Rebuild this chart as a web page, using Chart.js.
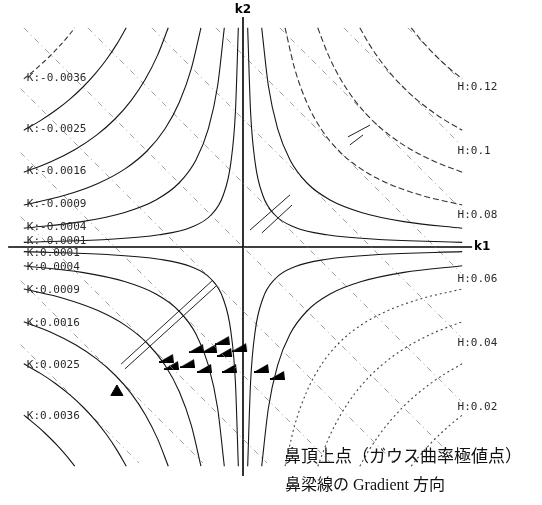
<!DOCTYPE html>
<html>
<head>
<meta charset="utf-8">
<script src="https://cdn.jsdelivr.net/npm/chart.js@4.4.1/dist/chart.umd.min.js"></script>
<style>
  html, body { margin: 0; padding: 0; background: #fff; }
  #wrap { width: 542px; height: 505px; }
</style>
</head>
<body>
<div id="wrap"><canvas id="curvChart"></canvas></div>
<script>
// Gaussian curvature levels |K| drawn in each quadrant
const kLevels = [0.0001, 0.0004, 0.0009, 0.0016, 0.0025, 0.0036];

// |k1| samples along each K contour; |k2| is the same list read backwards
const kCurveSamples = [
  [0.00146, 0.00236, 0.00382, 0.00618, 0.0100, 0.01618, 0.0262, 0.0424, 0.0685],
  [0.00584, 0.00794, 0.01081, 0.0147, 0.0200, 0.02721, 0.0370, 0.0503, 0.0685],
  [0.01314, 0.01615, 0.01986, 0.02441, 0.0300, 0.03688, 0.04533, 0.05573, 0.0685],
  [0.02336, 0.02672, 0.03057, 0.03497, 0.0400, 0.04576, 0.05234, 0.05988, 0.0685],
  [0.0365, 0.03949, 0.04272, 0.04622, 0.0500, 0.05409, 0.05852, 0.06331, 0.0685],
  [0.05255, 0.05432, 0.05615, 0.05805, 0.0600, 0.06202, 0.06411, 0.06627, 0.0685],
];

// mean curvature lines k1 + k2 = H, with their two end points
const hLevels = [0.12, 0.1, 0.08, 0.06, 0.04, 0.02, 0, -0.02, -0.04, -0.06, -0.08, -0.1];
const hLineEnds = [
  [[0.0515, 0.0685], [0.068, 0.052]],
  [[0.0315, 0.0685], [0.068, 0.032]],
  [[0.0115, 0.0685], [0.068, 0.012]],
  [[-0.0085, 0.0685], [0.068, -0.008]],
  [[-0.0285, 0.0685], [0.068, -0.028]],
  [[-0.0485, 0.0685], [0.068, -0.048]],
  [[-0.0685, 0.0685], [0.0675, -0.0675]],
  [[-0.0695, 0.0495], [0.0475, -0.0675]],
  [[-0.0695, 0.0295], [0.0275, -0.0675]],
  [[-0.0695, 0.0095], [0.0075, -0.0675]],
  [[-0.0695, -0.0105], [-0.0125, -0.0675]],
  [[-0.0695, -0.0305], [-0.0325, -0.0675]],
];
const hLabelled = [0.12, 0.1, 0.08, 0.06, 0.04, 0.02];

// axes
const k1Axis = [[-0.0734, 0], [0.0716, 0]];
const k2Axis = [[0, 0.0719], [0, -0.0716]];

// nose bridge gradient directions (flags) and nose tip (Gaussian extremum)
const flagK1 = [-0.0063, -0.0144, -0.0103, -0.0056, -0.0009, -0.0238, -0.0222, -0.0172, -0.0119, -0.0041, 0.0059, 0.0109];
const flagK2 = [-0.0291, -0.0316, -0.0316, -0.0328, -0.0313, -0.0347, -0.0369, -0.0363, -0.0378, -0.0378, -0.0378, -0.0400];
const apexK1 = [-0.0394];
const apexK2 = [-0.0453];

// short double strokes marking the gradient direction
const gradientStrokes = [
  [[-0.0381, -0.0366], [-0.0097, -0.0106]],
  [[-0.0369, -0.0381], [-0.0084, -0.0122]],
  [[0.0022, 0.0053], [0.0147, 0.0163]],
  [[0.0059, 0.0044], [0.0153, 0.0131]],
  [[0.0328, 0.0344], [0.0397, 0.0381]],
  [[0.0334, 0.0319], [0.0375, 0.0350]],
];

const toPts = (pair) => pair.map(([x, y]) => ({ x, y }));

function lineSet(points, color, width, dash) {
  return {
    data: points,
    showLine: true,
    borderColor: color,
    borderWidth: width,
    borderDash: dash || [],
    pointRadius: 0,
    pointHitRadius: 0,
    fill: false,
  };
}

const datasets = [];

// K contours, one per level and quadrant
const quadrants = [
  { sx: -1, sy: 1, name: "UL" },
  { sx: -1, sy: -1, name: "LL" },
  { sx: 1, sy: 1, name: "UR" },
  { sx: 1, sy: -1, name: "LR" },
];
kCurveSamples.forEach((u, i) => {
  const v = u.slice().reverse();
  quadrants.forEach((q) => {
    const pts = u
      .map((val, j) => ({ x: q.sx * val, y: q.sy * v[j] }))
      .sort((a, b) => a.x - b.x);
    let dash = [];
    let color = "#161616";
    if (q.name === "UL" && i === 5) { dash = [5, 3]; color = "#333"; }
    if (q.name === "UR" && i >= 2) { dash = [6, 3]; color = "#333"; }
    if (q.name === "LR" && i >= 2) { dash = [2, 3]; color = "#444"; }
    const ds = lineSet(pts, color, 1.1, dash);
    ds.cubicInterpolationMode = "monotone";
    datasets.push(ds);
  });
});

// H lines
hLineEnds.forEach((ends) => {
  datasets.push(lineSet(toPts(ends), "#8a8a8a", 0.8, [6, 4, 1, 4]));
});

// gradient strokes
gradientStrokes.forEach((s) => {
  datasets.push(lineSet(toPts(s), "#222", 1, []));
});

// axes
datasets.push(lineSet(toPts(k1Axis), "#000", 1.6, []));
datasets.push(lineSet(toPts(k2Axis), "#000", 1.6, []));

// flag marker
const flag = document.createElement("canvas");
flag.width = 16;
flag.height = 10;
{
  const fc = flag.getContext("2d");
  fc.fillStyle = "#000";
  fc.beginPath();
  fc.moveTo(0, 9);
  fc.lineTo(14, 1);
  fc.lineTo(15, 9);
  fc.closePath();
  fc.fill();
  fc.fillRect(0, 8, 15, 2);
}

datasets.push({
  data: flagK1.map((x, i) => ({ x, y: flagK2[i] })),
  pointStyle: flag,
  pointRadius: 7,
  showLine: false,
});
datasets.push({
  data: apexK1.map((x, i) => ({ x, y: apexK2[i] })),
  pointStyle: "triangle",
  pointRadius: 7,
  backgroundColor: "#000",
  borderColor: "#000",
  showLine: false,
});

const labelPlugin = {
  id: "labels",
  afterDatasetsDraw(chart) {
    const { ctx } = chart;
    const xs = chart.scales.x;
    const ys = chart.scales.y;
    ctx.save();

    // K labels along the left edge
    ctx.font = "11px 'DejaVu Sans Mono'";
    ctx.fillStyle = "#2a2a2a";
    ctx.textAlign = "left";
    ctx.textBaseline = "middle";
    kLevels.forEach((k, i) => {
      const s = kCurveSamples[i];
      const px = xs.getPixelForValue(-s[s.length - 1]) + 3;
      ctx.fillText("K:-" + k.toFixed(4), px, ys.getPixelForValue(s[0]) - 1);
      ctx.fillText("K:" + k.toFixed(4), px, ys.getPixelForValue(-s[0]) + 1);
    });

    // H labels along the right edge
    hLabelled.forEach((h) => {
      const end = hLineEnds[hLevels.indexOf(h)][1];
      const px = xs.getPixelForValue(end[0]) - 3;
      const py = ys.getPixelForValue(end[1]) + 7;
      ctx.fillText("H:" + (h === 0.1 ? "0.1" : h.toFixed(2)), px, py);
    });

    // axis names
    ctx.font = "bold 12px 'DejaVu Sans'";
    ctx.fillStyle = "#000";
    ctx.textAlign = "center";
    ctx.textBaseline = "bottom";
    ctx.fillText("k2", xs.getPixelForValue(0), ys.getPixelForValue(k2Axis[0][1]) - 1);
    ctx.textAlign = "left";
    ctx.textBaseline = "middle";
    ctx.fillText("k1", xs.getPixelForValue(k1Axis[1][0]) + 2, ys.getPixelForValue(0));

    // legend text
    ctx.fillStyle = "#111";
    ctx.font = "17px 'Noto Sans CJK JP'";
    ctx.fillText("鼻頂上点（ガウス曲率極値点）", 284, 456);
    ctx.font = "16px 'Liberation Serif', 'Noto Sans CJK JP'";
    ctx.fillText("鼻梁線の Gradient 方向", 285, 486);

    ctx.restore();
  },
};

new Chart(document.getElementById("curvChart"), {
  type: "scatter",
  data: { datasets },
  options: {
    responsive: true,
    maintainAspectRatio: false,
    animation: false,
    layout: { padding: 0, autoPadding: false },
    plugins: {
      legend: { display: false },
      tooltip: { enabled: false },
    },
    scales: {
      x: { type: "linear", min: -0.0759375, max: 0.0934375, display: false },
      y: { type: "linear", min: -0.080625, max: 0.0771875, display: false },
    },
  },
  plugins: [labelPlugin],
});
</script>
</body>
</html>
